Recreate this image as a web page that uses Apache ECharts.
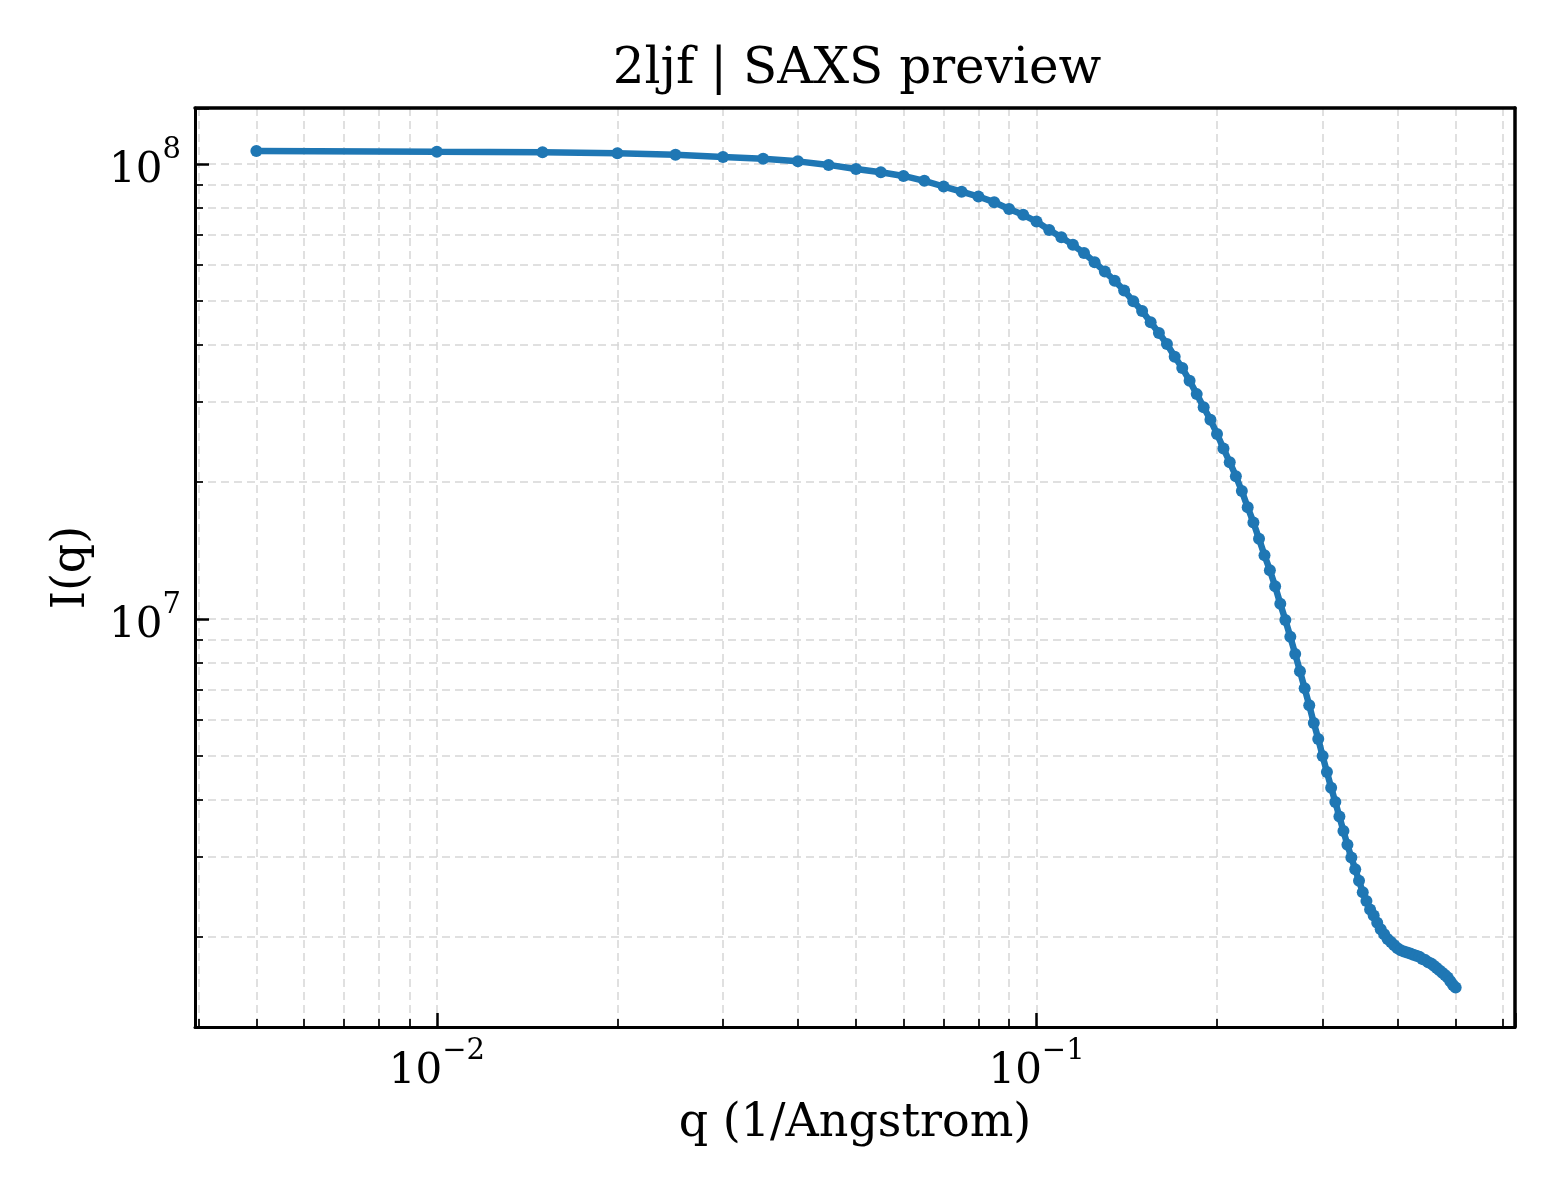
<!DOCTYPE html>
<html lang="en">
  <head>
    <meta charset="UTF-8" />
    <title>2ljf | SAXS preview</title>
    <script src="https://cdn.jsdelivr.net/npm/echarts@6/dist/echarts.min.js"></script>
    <style>
      html, body { margin: 0; padding: 0; background: #fff; }
      #main { width: 1560px; height: 1200px; }
    </style>
  </head>
  <body>
    <div id="main"></div>
    <script type="text/javascript">
      // scattering vector q (1/Angstrom)
      const qValues = [
        0.005, 0.01, 0.015, 0.02, 0.025, 0.03, 0.035, 0.04, 0.045, 0.05,
        0.055, 0.06, 0.065, 0.07, 0.075, 0.08, 0.085, 0.09, 0.095, 0.1,
        0.105, 0.11, 0.115, 0.12, 0.125, 0.13, 0.135, 0.14, 0.145, 0.15,
        0.155, 0.16, 0.165, 0.17, 0.175, 0.18, 0.185, 0.19, 0.195, 0.2,
        0.205, 0.21, 0.215, 0.22, 0.225, 0.23, 0.235, 0.24, 0.245, 0.25,
        0.255, 0.26, 0.265, 0.27, 0.275, 0.28, 0.285, 0.29, 0.295, 0.3,
        0.305, 0.31, 0.315, 0.32, 0.325, 0.33, 0.335, 0.34, 0.345, 0.35,
        0.355, 0.36, 0.365, 0.37, 0.375, 0.38, 0.385, 0.39, 0.395, 0.4,
        0.405, 0.41, 0.415, 0.42, 0.425, 0.43, 0.435, 0.44, 0.445, 0.45,
        0.455, 0.46, 0.465, 0.47, 0.475, 0.48, 0.485, 0.49, 0.495, 0.5
      ];
      // intensity I(q)
      const intensity = [
        1.068e8, 1.063e8, 1.061e8, 1.056e8, 1.047e8, 1.036e8, 1.026e8, 1.013e8, 9.95e7, 9.75e7,
        9.59e7, 9.41e7, 9.18e7, 8.92e7, 8.69e7, 8.48e7, 8.24e7, 7.96e7, 7.73e7, 7.47e7,
        7.16e7, 6.90e7, 6.64e7, 6.37e7, 6.08e7, 5.80e7, 5.54e7, 5.27e7, 4.99e7, 4.75e7,
        4.49e7, 4.25e7, 4.02e7, 3.77e7, 3.56e7, 3.34e7, 3.12e7, 2.92e7, 2.74e7, 2.55e7,
        2.37e7, 2.21e7, 2.06e7, 1.91e7, 1.76e7, 1.63e7, 1.50e7, 1.38e7, 1.28e7, 1.18e7,
        1.08e7, 9.95e6, 9.14e6, 8.38e6, 7.68e6, 7.04e6, 6.46e6, 5.91e6, 5.45e6, 5.00e6,
        4.61e6, 4.26e6, 3.96e6, 3.68e6, 3.42e6, 3.19e6, 2.99e6, 2.82e6, 2.66e6, 2.51e6,
        2.40e6, 2.30e6, 2.23e6, 2.15e6, 2.08e6, 2.03e6, 1.98e6, 1.95e6, 1.92e6, 1.89e6,
        1.87e6, 1.86e6, 1.85e6, 1.84e6, 1.83e6, 1.82e6, 1.81e6, 1.79e6, 1.78e6, 1.76e6,
        1.75e6, 1.73e6, 1.71e6, 1.69e6, 1.67e6, 1.65e6, 1.63e6, 1.60e6, 1.57e6, 1.55e6
      ];
      // tick labels (base 10 with exponent)
      const xTickValues = [0.01, 0.1];
      const xTickExps = ["\u22122", "\u22121"];
      const yTickValues = [1e7, 1e8];
      const yTickExps = ["7", "8"];

      const FONT = "DejaVu Serif";
      const gridColor = "#d6d6d6";
      const xRange = [0.00395, 0.628];
      const yRange = [1.269e6, 1.327e8];

      function tickLabel(values, exps) {
        return function (v) {
          for (let i = 0; i < values.length; i++) {
            if (Math.abs(v - values[i]) / values[i] < 1e-6) {
              return "{b|10}{s|" + exps[i] + "}";
            }
          }
          return "";
        };
      }
      const richLabel = {
        b: { fontFamily: FONT, fontSize: 42, color: "#000", lineHeight: 56, verticalAlign: "bottom" },
        s: { fontFamily: FONT, fontSize: 29, color: "#000", lineHeight: 30, verticalAlign: "top" }
      };

      function axisCommon() {
        return {
          type: "log",
          logBase: 10,
          axisLine: { show: true, lineStyle: { color: "#000", width: 3 } },
          axisTick: { show: true, inside: true, length: 14, lineStyle: { color: "#000", width: 2.5 } },
          minorTick: { show: true, splitNumber: 9, length: 8, lineStyle: { color: "#000", width: 1.7 } },
          splitLine: { show: true, lineStyle: { color: gridColor, width: 1.5, type: [8, 5] } },
          minorSplitLine: { show: true, lineStyle: { color: gridColor, width: 1.5, type: [8, 5] } },
          nameTextStyle: { fontFamily: FONT, fontSize: 46, color: "#000" }
        };
      }
      // plain spine for the top and right edges of the frame
      function spineOnly(position, range) {
        return {
          type: "log",
          logBase: 10,
          position: position,
          min: range[0],
          max: range[1],
          axisLine: { show: true, lineStyle: { color: "#000", width: 3.5 } },
          axisTick: { show: false },
          minorTick: { show: false },
          axisLabel: { show: false },
          splitLine: { show: false },
          minorSplitLine: { show: false }
        };
      }

      const data = qValues.map(function (q, i) { return [q, intensity[i]]; });

      const chart = echarts.init(document.getElementById("main"));
      const option = {
        animation: false,
        backgroundColor: "#fff",
        title: {
          text: "2ljf | SAXS preview",
          left: 852,
          textAlign: "center",
          top: 40,
          textStyle: { fontFamily: FONT, fontSize: 50, fontWeight: "normal", color: "#000" }
        },
        grid: { left: 195, right: 45, top: 108, bottom: 173 },
        xAxis: [
          Object.assign(axisCommon(), {
            position: "bottom",
            min: xRange[0],
            max: xRange[1],
            name: "q (1/Angstrom)",
            nameLocation: "middle",
            nameGap: 74,
            axisLabel: {
              margin: 10,
              showMinLabel: false,
              showMaxLabel: false,
              formatter: tickLabel(xTickValues, xTickExps),
              rich: richLabel
            }
          }),
          spineOnly("top", xRange)
        ],
        yAxis: [
          Object.assign(axisCommon(), {
            position: "left",
            min: yRange[0],
            max: yRange[1],
            name: "I(q)",
            nameLocation: "middle",
            nameGap: 100,
            axisLabel: {
              margin: 14,
              showMinLabel: false,
              showMaxLabel: false,
              formatter: tickLabel(yTickValues, yTickExps),
              rich: richLabel
            }
          }),
          spineOnly("right", yRange)
        ],
        series: [
          {
            type: "line",
            xAxisIndex: 0,
            yAxisIndex: 0,
            data: data,
            symbol: "circle",
            symbolSize: 12,
            showSymbol: true,
            lineStyle: { color: "#1f77b4", width: 6.5 },
            itemStyle: { color: "#1f77b4" },
            z: 5
          }
        ]
      };
      chart.setOption(option);
    </script>
  </body>
</html>
